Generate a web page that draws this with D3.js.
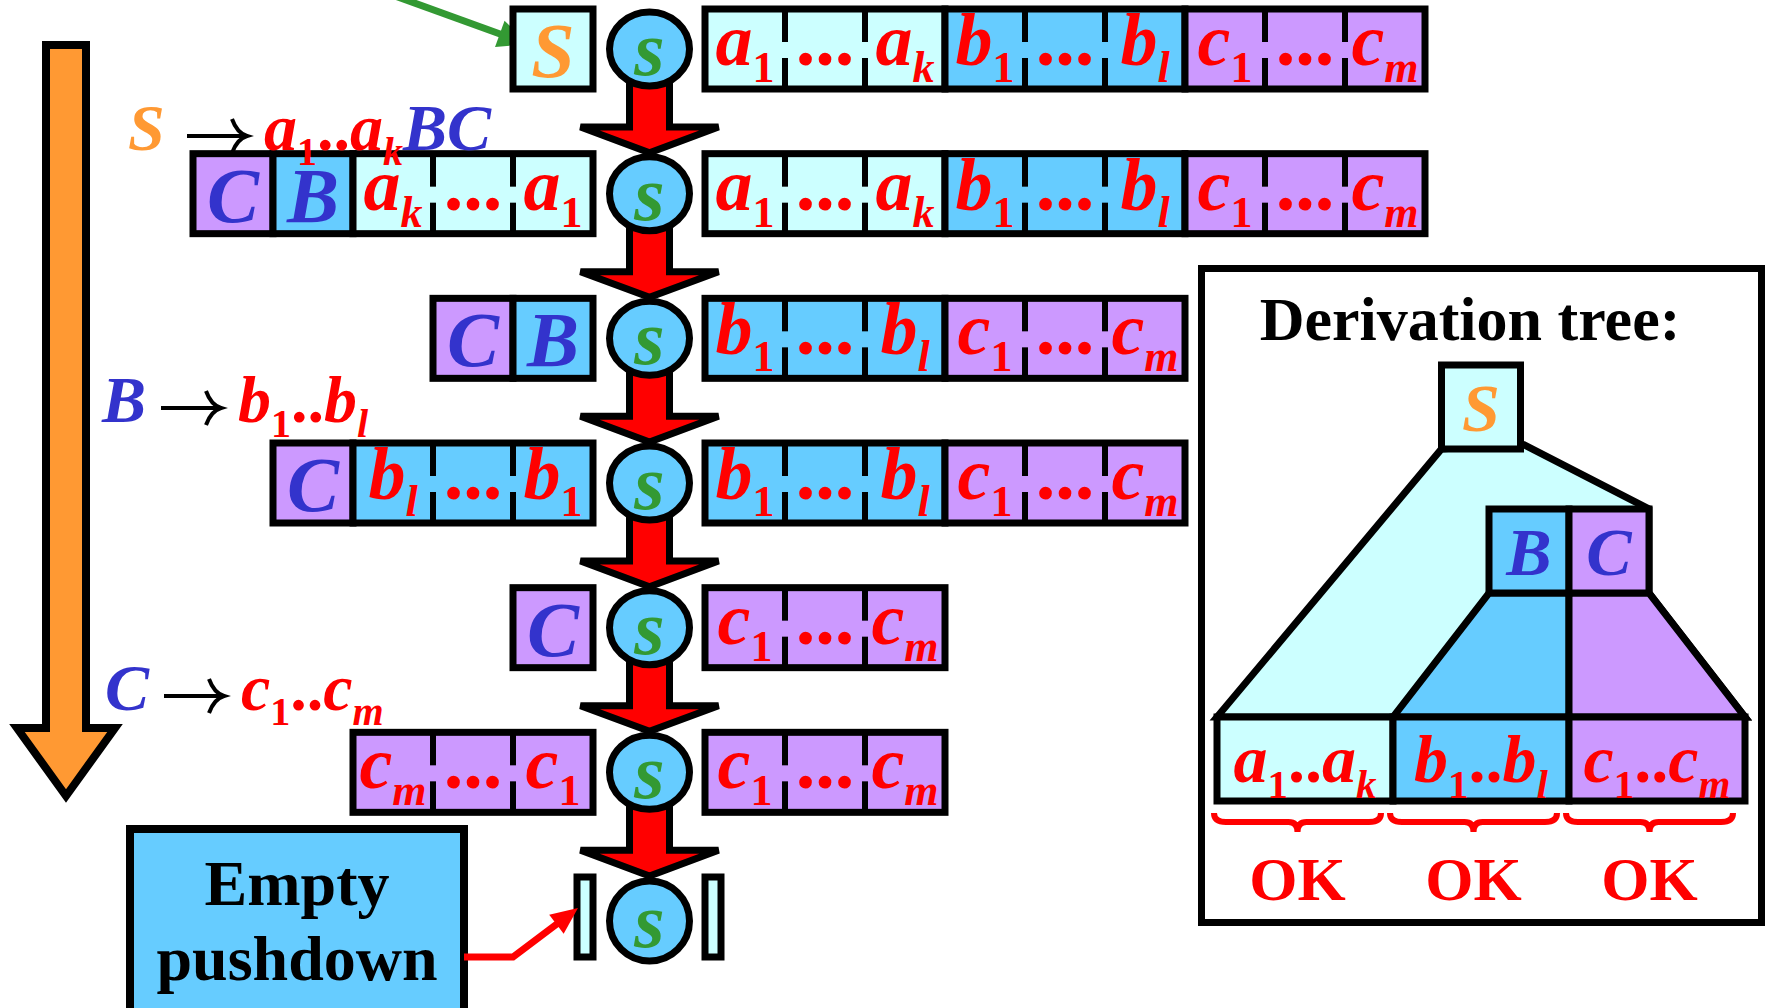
<!DOCTYPE html>
<html>
<head>
<meta charset="utf-8">
<title>Top-down pushdown parsing</title>
<script src="https://cdn.jsdelivr.net/npm/d3@7"></script>
<style>
  html, body { margin: 0; padding: 0; background: #fff; overflow: hidden; }
  svg text { font-family: "Liberation Serif", "Times New Roman", serif; font-weight: bold; }
</style>
</head>
<body>
<div id="graph"></div>
<script>
// pushdown contents at each step (bottom of the pushdown on the left)
var pushdown = [["S"], ["C", "B", "a"], ["C", "B"], ["C", "b"], ["C"], ["c"], []];
// input still to be read at each step
var input = [["a", "b", "c"], ["a", "b", "c"], ["b", "c"], ["b", "c"], ["c"], ["c"], []];
// rules used: left side, terminal string, nonterminals that follow
var ruleLhs = ["S", "B", "C"];
var ruleTerm = ["a", "b", "c"];
var ruleTail = ["BC", "", ""];
// terminal strings and their first / last index
var terminals = ["a", "b", "c"];
var firstIndex = ["1", "1", "1"];
var lastIndex = ["k", "l", "m"];
// derivation tree
var treeRoot = "S";
var treeInner = ["B", "C"];
var leaves = ["a", "b", "c"];
var verdicts = ["OK", "OK", "OK"];

var fillOf = {S: "#ccffff", B: "#66ccff", C: "#cc99ff", a: "#ccffff", b: "#66ccff", c: "#cc99ff"};
var inkOf = {S: "#ff9933", B: "#3333cc", C: "#3333cc"};
var RED = "#ff0000", GREEN = "#339933";

var width = 1767, height = 1008;
var svg = d3.select("#graph").append("svg")
    .attr("width", width).attr("height", height);

// scales
var row = d3.scaleLinear().domain([0, 6]).range([49, 917]);
var cellIn = d3.scaleLinear().domain([0, 9]).range([705, 1425]);
var cellStack = d3.scaleLinear().domain([-5, 0]).range([193, 593]);
var midX = 649.5;

var arrowLayer = svg.append("g");
var boxLayer = svg.append("g");
var circleLayer = svg.append("g");
var textLayer = svg.append("g");

function cells(s) { return terminals.indexOf(s) >= 0 ? 3 : 1; }

// writes letter / subscript runs into a text element
function writeRun(t, pieces, size) {
    var subSize = Math.round(size * 0.6), drop = Math.round(size * 0.23), low = false;
    pieces.forEach(function(p) {
        var dy = p.sub && !low ? drop : (!p.sub && low ? -drop : 0);
        low = !!p.sub;
        t.append("tspan")
            .attr("dy", dy)
            .attr("font-size", p.sub ? subSize : size)
            .attr("font-style", p.italic ? "italic" : "normal")
            .attr("fill", p.color || RED)
            .text(p.text);
    });
    return t;
}
function isDigit(s) { return /^[0-9]+$/.test(s); }
function symPieces(letter, idx) {
    return [{text: letter, italic: true}, {text: idx, sub: true, italic: !isDigit(idx)}];
}

// ---- big orange arrow on the left
var ox = 66;
arrowLayer.append("polygon")
    .attr("points", [[ox - 20, 45], [ox + 20, 45], [ox + 20, 728], [ox + 49, 728], [ox, 796], [ox - 49, 728], [ox - 20, 728]].join(" "))
    .attr("fill", "#ff9933").attr("stroke", "#000").attr("stroke-width", 8).attr("stroke-linejoin", "miter");

// ---- red step arrows
d3.range(6).forEach(function(i) {
    var cy = row(i), top = cy + 30, base = cy + 78, tip = row(i + 1) - 41;
    arrowLayer.append("polygon")
        .attr("points", [[midX - 20, top], [midX + 20, top], [midX + 20, base], [midX + 69, base],
            [midX, tip], [midX - 69, base], [midX - 20, base]].join(" "))
        .attr("fill", RED).attr("stroke", "#000").attr("stroke-width", 7).attr("stroke-linejoin", "miter");
});

// ---- pushdown and input rows
function layoutGroups(list, start, xs, cy, onStack) {
    var pos = start;
    list.forEach(function(s) {
        var n = cells(s), x1 = xs(pos), x2 = xs(pos + n);
        boxLayer.append("rect")
            .attr("x", x1).attr("y", cy - 40)
            .attr("width", x2 - x1).attr("height", 80)
            .attr("fill", fillOf[s]).attr("stroke", "#000").attr("stroke-width", 7);
        if (n === 3) {
            var k = terminals.indexOf(s);
            [1, 2].forEach(function(j) {
                var xd = xs(pos + j);
                boxLayer.append("line").attr("x1", xd).attr("x2", xd).attr("y1", cy - 40).attr("y2", cy - 7)
                    .attr("stroke", "#000").attr("stroke-width", 6);
                boxLayer.append("line").attr("x1", xd).attr("x2", xd).attr("y1", cy + 9).attr("y2", cy + 40)
                    .attr("stroke", "#000").attr("stroke-width", 6);
            });
            var first = onStack ? lastIndex[k] : firstIndex[k];
            var last = onStack ? firstIndex[k] : lastIndex[k];
            writeRun(textLayer.append("text").attr("x", xs(pos + 0.5)).attr("y", cy + 16).attr("text-anchor", "middle"),
                symPieces(s, first), 74);
            textLayer.append("text").attr("x", xs(pos + 1.5)).attr("y", cy + 16).attr("text-anchor", "middle")
                .attr("font-size", 78).attr("fill", RED).text("...");
            writeRun(textLayer.append("text").attr("x", xs(pos + 2.5)).attr("y", cy + 16).attr("text-anchor", "middle"),
                symPieces(s, last), 74);
        } else {
            textLayer.append("text")
                .attr("x", (x1 + x2) / 2).attr("y", cy + 28)
                .attr("text-anchor", "middle")
                .attr("font-size", 78).attr("font-style", "italic")
                .attr("fill", inkOf[s]).text(s);
        }
        pos += n;
    });
}

d3.range(pushdown.length).forEach(function(i) {
    var cy = row(i);
    if (pushdown[i].length === 0 && input[i].length === 0) {
        // empty pushdown and empty input: just the two end bars
        boxLayer.append("rect").attr("x", cellStack(0) - 16).attr("y", cy - 40).attr("width", 16).attr("height", 80)
            .attr("fill", "#ccffff").attr("stroke", "#000").attr("stroke-width", 7);
        boxLayer.append("rect").attr("x", cellIn(0)).attr("y", cy - 40).attr("width", 16).attr("height", 80)
            .attr("fill", "#ccffff").attr("stroke", "#000").attr("stroke-width", 7);
    }
    var total = d3.sum(pushdown[i], cells);
    layoutGroups(pushdown[i], -total, cellStack, cy, true);
    layoutGroups(input[i], 0, cellIn, cy, false);

    var last = i === pushdown.length - 1;
    var ccy = last ? cy + 4 : cy;
    circleLayer.append("ellipse")
        .attr("cx", midX).attr("cy", ccy)
        .attr("rx", 40).attr("ry", last ? 40 : 37)
        .attr("fill", "#66ccff").attr("stroke", "#000").attr("stroke-width", 7);
    textLayer.append("text")
        .attr("x", midX).attr("y", ccy + 26)
        .attr("text-anchor", "middle")
        .attr("font-size", 78).attr("font-style", "italic")
        .attr("fill", GREEN).text("s");
});

// ---- rules on the left
var ruleBase = [150, 422, 710], ruleShift = [26, 0, 3];
ruleLhs.forEach(function(lhs, r) {
    var y = ruleBase[r], dx = ruleShift[r], ay = y - 14;
    textLayer.append("text").attr("x", 102 + dx).attr("y", y)
        .attr("font-size", 66).attr("font-style", "italic")
        .attr("fill", inkOf[lhs]).text(lhs);
    // arrow sign of the rule
    var a0 = 161 + dx, a1 = 221 + dx;
    textLayer.append("path")
        .attr("d", "M" + a0 + "," + ay + " L" + (a1 - 2) + "," + ay +
            " M" + (a1 - 15) + "," + (ay - 17) + " Q" + (a1 - 10) + "," + (ay - 3) + " " + a1 + "," + ay +
            " Q" + (a1 - 10) + "," + (ay + 3) + " " + (a1 - 15) + "," + (ay + 17))
        .attr("fill", "none").attr("stroke", "#000").attr("stroke-width", 4);
    var k = terminals.indexOf(ruleTerm[r]);
    var pieces = symPieces(ruleTerm[r], firstIndex[k])
        .concat([{text: ".."}])
        .concat(symPieces(ruleTerm[r], lastIndex[k]));
    if (ruleTail[r]) pieces.push({text: ruleTail[r], italic: true, color: "#3333cc"});
    writeRun(textLayer.append("text").attr("x", 238 + dx).attr("y", y), pieces, 66);
});

// ---- green arrow pointing at the start symbol
(function() {
    var x0 = 384, y0 = -8, x1 = 528, y1 = 44;
    var L = Math.hypot(x1 - x0, y1 - y0), ux = (x1 - x0) / L, uy = (y1 - y0) / L;
    var bx = x1 - 30 * ux, by = y1 - 30 * uy;
    arrowLayer.append("line").attr("x1", x0).attr("y1", y0).attr("x2", bx + 4 * ux).attr("y2", by + 4 * uy)
        .attr("stroke", GREEN).attr("stroke-width", 7);
    arrowLayer.append("polygon")
        .attr("points", [[x1, y1], [bx - 14 * uy, by + 14 * ux], [bx + 14 * uy, by - 14 * ux]].join(" "))
        .attr("fill", GREEN);
})();

// ---- "Empty pushdown" note
boxLayer.append("rect").attr("x", 130).attr("y", 829).attr("width", 334).attr("height", 190)
    .attr("fill", "#66ccff").attr("stroke", "#000").attr("stroke-width", 8);
textLayer.append("text").attr("x", 297).attr("y", 905).attr("text-anchor", "middle")
    .attr("font-size", 64).attr("fill", "#000").text("Empty");
textLayer.append("text").attr("x", 297).attr("y", 980).attr("text-anchor", "middle")
    .attr("font-size", 64).attr("fill", "#000").text("pushdown");
(function() {
    var tipX = 578, tipY = 908, kx = 513, ky = 957;
    var L = Math.hypot(tipX - kx, tipY - ky), ux = (tipX - kx) / L, uy = (tipY - ky) / L;
    var bx = tipX - 27 * ux, by = tipY - 27 * uy;
    textLayer.append("polyline")
        .attr("points", [[464, ky], [kx, ky], [bx + 3 * ux, by + 3 * uy]].join(" "))
        .attr("fill", "none").attr("stroke", RED).attr("stroke-width", 7);
    textLayer.append("polygon")
        .attr("points", [[tipX, tipY], [bx - 12 * uy, by + 12 * ux], [bx + 12 * uy, by - 12 * ux]].join(" "))
        .attr("fill", RED);
})();

// ---- derivation tree
var tree = svg.append("g");
var leafX = d3.scaleLinear().domain([0, 3]).range([1217, 1745]);
var rootX = leafX(1.5), splitX = leafX(2);
var yRoot = [365, 449], yInner = [509, 593], yLeaf = [717, 801];

tree.append("rect").attr("x", 1201.5).attr("y", 268.5).attr("width", 560).attr("height", 654)
    .attr("fill", "#fff").attr("stroke", "#000").attr("stroke-width", 7);
tree.append("text").attr("x", 1470).attr("y", 340).attr("text-anchor", "middle")
    .attr("font-size", 62).attr("fill", "#000").text("Derivation tree:");

function poly(pts, fill) {
    tree.append("polygon").attr("points", pts.join(" "))
        .attr("fill", fill).attr("stroke", "#000").attr("stroke-width", 7).attr("stroke-linejoin", "miter");
}
poly([[rootX - 39.5, yRoot[1]], [rootX + 39.5, yRoot[1] - 6], [splitX + 80, yInner[0]], [splitX + 80, yInner[1]],
    [leafX(3), yLeaf[0]], [leafX(0), yLeaf[0]]], fillOf[treeRoot]);
poly([[splitX - 80, yInner[1]], [splitX, yInner[1]], [splitX, yLeaf[0]], [leafX(1), yLeaf[0]]], fillOf[treeInner[0]]);
poly([[splitX, yInner[1]], [splitX + 80, yInner[1]], [leafX(3), yLeaf[0]], [splitX, yLeaf[0]]], fillOf[treeInner[1]]);

function treeBox(x1, x2, y, s) {
    tree.append("rect").attr("x", x1).attr("y", y[0]).attr("width", x2 - x1).attr("height", y[1] - y[0])
        .attr("fill", fillOf[s]).attr("stroke", "#000").attr("stroke-width", 7);
    tree.append("text").attr("x", (x1 + x2) / 2).attr("y", (y[0] + y[1]) / 2 + 24)
        .attr("text-anchor", "middle").attr("font-size", 68).attr("font-style", "italic")
        .attr("fill", inkOf[s]).text(s);
}
treeBox(rootX - 39.5, rootX + 39.5, yRoot, treeRoot);
treeBox(splitX - 80, splitX, yInner, treeInner[0]);
treeBox(splitX, splitX + 80, yInner, treeInner[1]);

leaves.forEach(function(s, i) {
    var x1 = leafX(i), x2 = leafX(i + 1), k = terminals.indexOf(s);
    tree.append("rect").attr("x", x1).attr("y", yLeaf[0]).attr("width", x2 - x1).attr("height", yLeaf[1] - yLeaf[0])
        .attr("fill", fillOf[s]).attr("stroke", "#000").attr("stroke-width", 7);
    var pieces = symPieces(s, firstIndex[k]).concat([{text: ".."}]).concat(symPieces(s, lastIndex[k]));
    writeRun(tree.append("text").attr("x", (x1 + x2) / 2).attr("y", 782).attr("text-anchor", "middle"), pieces, 68);

    // curly brace under the leaf
    var b0 = x1 - 3, b1 = x1 + 164, m = (b0 + b1) / 2;
    tree.append("path")
        .attr("d", "M" + b0 + ",813 Q" + b0 + ",822 " + (b0 + 12) + ",822 L" + (m - 9) + ",822 Q" + m + ",822 " + m + ",832" +
            " Q" + m + ",822 " + (m + 9) + ",822 L" + (b1 - 12) + ",822 Q" + b1 + ",822 " + b1 + ",813")
        .attr("fill", "none").attr("stroke", RED).attr("stroke-width", 6);
    tree.append("text").attr("x", m).attr("y", 900).attr("text-anchor", "middle")
        .attr("font-size", 62).attr("fill", RED).text(verdicts[i]);
});
</script>
</body>
</html>
